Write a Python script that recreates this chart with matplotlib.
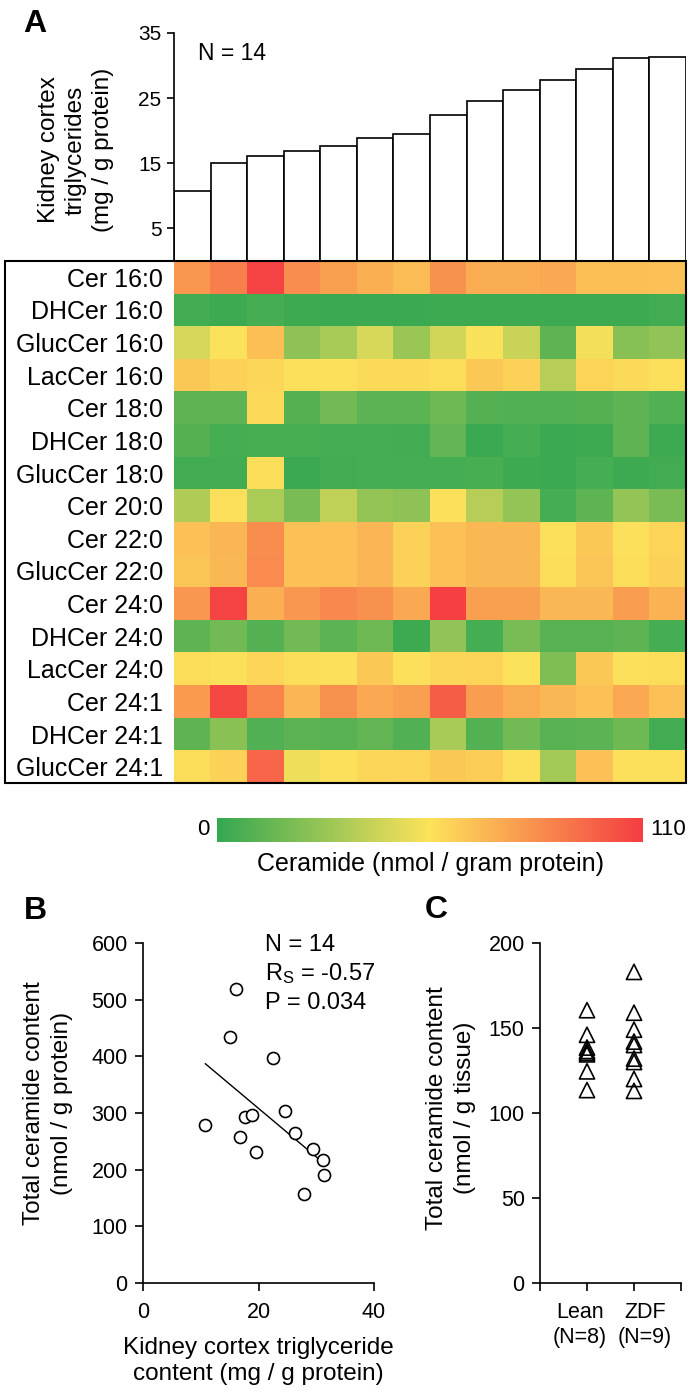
import numpy as np
import matplotlib
matplotlib.use("Agg")
import matplotlib.pyplot as plt
from matplotlib.colors import LinearSegmentedColormap
from matplotlib.patches import Rectangle

plt.rcParams['font.family'] = ['Liberation Sans', 'DejaVu Sans']
plt.rcParams['mathtext.fontset'] = 'custom'
plt.rcParams['mathtext.rm'] = 'Liberation Sans'
plt.rcParams['mathtext.it'] = 'Liberation Sans'

# ---------------- data ----------------
tg_values = [10.8, 15.06, 16.19, 16.85, 17.67, 18.85, 19.56, 22.47, 24.52, 26.25, 27.84, 29.42, 31.1, 31.36]
total_ceramide = [279, 435, 518, 257, 293, 297, 231, 397, 303, 265, 157, 236, 217, 190]

lipid_labels = ["Cer 16:0", "DHCer 16:0", "GlucCer 16:0", "LacCer 16:0", "Cer 18:0", "DHCer 18:0",
                "GlucCer 18:0", "Cer 20:0", "Cer 22:0", "GlucCer 22:0", "Cer 24:0", "DHCer 24:0",
                "LacCer 24:0", "Cer 24:1", "DHCer 24:1", "GlucCer 24:1"]
cer_16_0 = [80, 88, 108, 83, 77, 72, 68, 82, 73, 73, 74, 67, 67, 66]
dhcer_16_0 = [4, 3, 5, 3, 2, 2, 2, 3, 3, 3, 3, 3, 3, 4]
glucer_16_0 = [44, 55, 67, 25, 32, 45, 28, 43, 54, 41, 12, 52, 23, 26]
laccer_16_0 = [64, 61, 59, 56, 56, 58, 58, 57, 64, 61, 36, 60, 58, 56]
cer_18_0 = [12, 12, 58, 9, 17, 11, 11, 16, 9, 8, 8, 9, 12, 8]
dhcer_18_0 = [9, 5, 6, 6, 5, 5, 4, 13, 2, 5, 2, 3, 12, 3]
glucer_18_0 = [4, 4, 57, 2, 4, 5, 5, 5, 6, 3, 2, 5, 3, 4]
cer_20_0 = [34, 56, 33, 19, 39, 27, 25, 56, 36, 27, 5, 12, 27, 19]
cer_22_0 = [66, 70, 83, 66, 66, 70, 61, 66, 69, 69, 56, 64, 56, 60]
glucer_22_0 = [65, 69, 84, 66, 66, 70, 61, 66, 69, 69, 57, 65, 57, 61]
cer_24_0 = [80, 108, 72, 80, 85, 82, 74, 109, 77, 77, 69, 69, 78, 71]
dhcer_24_0 = [12, 17, 9, 17, 11, 16, 3, 26, 5, 19, 10, 10, 12, 5]
laccer_24_0 = [57, 56, 60, 57, 56, 64, 56, 59, 60, 55, 21, 64, 56, 57]
cer_24_1 = [79, 106, 86, 70, 82, 74, 77, 99, 78, 73, 69, 66, 74, 66]
dhcer_24_1 = [12, 24, 8, 11, 10, 13, 8, 32, 9, 17, 10, 11, 16, 4]
glucer_24_1 = [57, 61, 96, 51, 56, 59, 60, 64, 62, 56, 31, 66, 56, 56]

heat_rows = [cer_16_0, dhcer_16_0, glucer_16_0, laccer_16_0, cer_18_0, dhcer_18_0, glucer_18_0,
             cer_20_0, cer_22_0, glucer_22_0, cer_24_0, dhcer_24_0, laccer_24_0, cer_24_1,
             dhcer_24_1, glucer_24_1]
cbar_min, cbar_max = 0, 110

lean_values = [160.5, 146, 138.5, 136.5, 135.5, 134.5, 124.5, 113.5]
zdf_values = [183, 159, 149, 142, 140, 132, 130, 120, 113]
group_labels = ["Lean\n(N=8)", "ZDF\n(N=9)"]

# ---------------- layout helpers ----------------
W, H = 693, 1395
fig = plt.figure(figsize=(W / 100, H / 100), dpi=100)


def rect(x0, y0, x1, y1):
    return [x0 / W, 1 - y1 / H, (x1 - x0) / W, (y1 - y0) / H]


def ftext(x, y, s, **kw):
    fig.text(x / W, 1 - y / H, s, **kw)


TICK = 15.5
LAB = 17.5

# ---------------- Panel A: bars ----------------
axb = fig.add_axes(rect(174, 33, 686, 261))
xs = np.arange(len(tg_values))
axb.bar(xs, tg_values, width=1.0, color='white', edgecolor='black', linewidth=1.2)
axb.set_xlim(-0.5, len(tg_values) - 0.5)
axb.set_ylim(0, 35)
axb.set_yticks([5, 15, 25, 35])
axb.tick_params(axis='y', labelsize=15, length=5, width=1.2, pad=4)
axb.set_xticks([])
for s in ['top', 'right', 'bottom']:
    axb.spines[s].set_visible(False)
axb.spines['left'].set_linewidth(1.2)
axb.patch.set_alpha(0)
ftext(198, 54, "N = 14", fontsize=16.5, ha='left', va='center')
ftext(76, 150, "Kidney cortex\ntriglycerides\n(mg / g protein)", fontsize=LAB, rotation=90,
      ha='center', va='center', multialignment='center', linespacing=1.3)
ftext(23, 24, "A", fontsize=23, fontweight='bold', ha='left', va='center')

# ---------------- Panel A: heatmap ----------------
cmap = LinearSegmentedColormap.from_list("gyr", ['#34a852', '#fde35b', '#f53d42'])
axh = fig.add_axes(rect(174, 261, 686, 783))
data = np.array(heat_rows, dtype=float)
axh.imshow(data, cmap=cmap, vmin=cbar_min, vmax=cbar_max, aspect='auto', interpolation='nearest')
axh.set_xticks([])
axh.set_yticks(np.arange(len(lipid_labels)))
axh.set_yticklabels(lipid_labels, fontsize=18)
axh.tick_params(axis='y', length=0, pad=8)
for s in axh.spines.values():
    s.set_visible(False)
fig.patches.append(Rectangle((5 / W, 1 - 783 / H), 681 / W, 522 / H, transform=fig.transFigure,
                             fill=False, edgecolor='black', linewidth=1.5, zorder=10))

# ---------------- colorbar ----------------
axc = fig.add_axes(rect(217, 818, 643, 842))
grad = np.linspace(cbar_min, cbar_max, 256)[None, :]
axc.imshow(grad, cmap=cmap, vmin=cbar_min, vmax=cbar_max, aspect='auto',
           extent=[cbar_min, cbar_max, 0, 1])
axc.set_xticks([])
axc.set_yticks([])
for s in axc.spines.values():
    s.set_visible(False)
ftext(210, 830, str(cbar_min), fontsize=16, ha='right', va='center')
ftext(650, 830, str(cbar_max), fontsize=16, ha='left', va='center')
ftext(430, 864, "Ceramide (nmol / gram protein)", fontsize=18, ha='center', va='center')

# ---------------- Panel B ----------------
axB = fig.add_axes(rect(143, 943, 374, 1283))
axB.scatter(tg_values, total_ceramide, s=75, facecolors='white', edgecolors='black',
            linewidths=1.2, zorder=3)
k, b = np.polyfit(tg_values, total_ceramide, 1)
xl = np.array([min(tg_values), max(tg_values)])
axB.plot(xl, k * xl + b, color='black', linewidth=1.0)
axB.set_xlim(0, 40)
axB.set_ylim(0, 600)
axB.set_xticks([0, 20, 40])
axB.set_yticks(np.arange(0, 601, 100))
axB.tick_params(labelsize=TICK, length=6, width=1.2, pad=5)
axB.tick_params(axis='x', pad=8)
for s in ['top', 'right']:
    axB.spines[s].set_visible(False)
for s in ['left', 'bottom']:
    axB.spines[s].set_linewidth(1.2)
ftext(265, 945, "N = 14", fontsize=17, ha='left', va='center')
ftext(265, 974, "R$_{\\mathrm{S}}$ = -0.57", fontsize=17, ha='left', va='center')
ftext(265, 1003, "P = 0.034", fontsize=17, ha='left', va='center')
ftext(48, 1103, "Total ceramide content\n(nmol / g protein)", fontsize=LAB, rotation=90,
      ha='center', va='center', multialignment='center', linespacing=1.4)
ftext(258, 1361, "Kidney cortex triglyceride\ncontent (mg / g protein)", fontsize=LAB,
      ha='center', va='center', multialignment='center', linespacing=1.25)
ftext(24, 911, "B", fontsize=23, fontweight='bold', ha='left', va='center')

# ---------------- Panel C ----------------
axC = fig.add_axes(rect(540, 943, 681, 1283))
axC.scatter([1] * len(lean_values), lean_values, marker='^', s=120, facecolors='none',
            edgecolors='black', linewidths=1.2, zorder=3)
axC.scatter([2] * len(zdf_values), zdf_values, marker='^', s=120, facecolors='none',
            edgecolors='black', linewidths=1.2, zorder=3)
axC.set_xlim(0, 3)
axC.set_ylim(0, 200)
axC.set_xticks([0, 1, 2, 3])
axC.set_xticklabels([])
axC.set_yticks(np.arange(0, 201, 50))
axC.tick_params(labelsize=TICK, length=6, width=1.2, pad=5)
for s in ['top', 'right']:
    axC.spines[s].set_visible(False)
for s in ['left', 'bottom']:
    axC.spines[s].set_linewidth(1.2)
ftext(580, 1325, group_labels[0], fontsize=TICK, ha='center', va='center',
      multialignment='center', linespacing=1.25)
ftext(645, 1325, group_labels[1], fontsize=TICK, ha='center', va='center',
      multialignment='center', linespacing=1.25)
ftext(451, 1108, "Total ceramide content\n(nmol / g tissue)", fontsize=LAB, rotation=90,
      ha='center', va='center', multialignment='center', linespacing=1.4)
ftext(425, 910, "C", fontsize=23, fontweight='bold', ha='left', va='center')

fig.savefig("out.png", dpi=100)
